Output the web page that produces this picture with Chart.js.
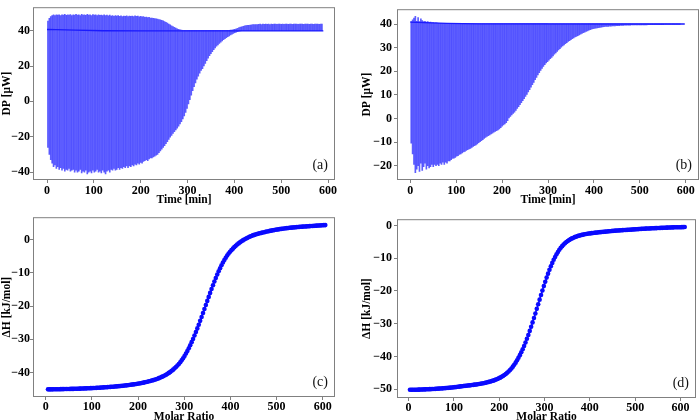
<!DOCTYPE html>
<html>
<head>
<meta charset="utf-8">
<script src="https://cdn.jsdelivr.net/npm/chart.js@4.4.1/dist/chart.umd.min.js"></script>
<style>
  html, body { margin: 0; padding: 0; background: #fff; overflow: hidden; }
  #page { position: relative; width: 700px; height: 420px; overflow: hidden; }
  canvas { position: absolute; }
</style>
</head>
<body>
<div id="page">
  <canvas id="panelA" width="350" height="210" style="left:0;top:0"></canvas>
  <canvas id="panelB" width="350" height="210" style="left:350px;top:0"></canvas>
  <canvas id="panelC" width="350" height="216" style="left:0;top:210px"></canvas>
  <canvas id="panelD" width="350" height="216" style="left:350px;top:210px"></canvas>
</div>
<script>
// injection schedule: one spike every 3 min
const injStart = 2;
const injStep = 3;

// (a) spike extremes, DP [uW], one value per injection
const dpTopA = [
  45.5, 47, 48, 48.5, 49, 48.5, 49, 48.8, 49, 48.6,
  49, 48.8, 49.2, 48.7, 49, 48.8, 49.1, 48.6, 49, 48.8,
  49.2, 48.9, 49, 48.6, 49.3, 48.8, 49, 48.7, 49.2, 48.9,
  49, 48.6, 49.1, 48.8, 49, 48.5, 49, 48.7, 48.9, 48.5,
  49, 48.6, 48.8, 48.4, 48.8, 48.3, 48.6, 48.2, 48.5, 48.3,
  48.5, 48.1, 48.4, 48, 48.3, 48.1, 48.4, 48, 48.3, 48.1,
  48.3, 48, 48.4, 48.1, 48.3, 47.9, 48.2, 47.8, 48, 47.6,
  47.7, 47.4, 47.5, 47.2, 47.2, 47, 46.9, 46.7, 46.6, 46.3,
  46.2, 45.9, 45.6, 45.2, 44.7, 44.3, 43.8, 43.3, 42.8, 42.3,
  41.9, 41.5, 41.1, 40.8, 40.5, 40.3, 40.2, 40.2, 40.2, 40.2,
  40.2, 40.2, 40.2, 40.2, 40.2, 40.2, 40.2, 40.2, 40.2, 40.2,
  40.2, 40.2, 40.2, 40.2, 40.2, 40.2, 40.2, 40.2, 40.2, 40.2,
  40.2, 40.2, 40.2, 40.2, 40.2, 40.2, 40.2, 40.2, 40.2, 40.2,
  40.3, 40.4, 40.6, 40.8, 41.1, 41.4, 41.7, 42, 42.2, 42.5,
  42.7, 42.9, 43.0, 43.1, 43.2, 43.3, 43.4, 43.4, 43.5, 43.5,
  43.6, 43.7, 43.5, 43.7, 43.6, 43.8, 43.6, 43.7, 43.5, 43.7,
  43.6, 43.8, 43.7, 43.6, 43.7, 43.8, 43.6, 43.7, 43.6, 43.8,
  43.7, 43.6, 43.8, 43.7, 43.6, 43.7, 43.8, 43.7, 43.6, 43.7,
  43.8, 43.7, 43.6, 43.7, 43.8, 43.7, 43.6, 43.8, 43.7, 43.6,
  43.7, 43.8, 43.7, 43.6, 43.7, 43.7
];
const dpBottomA = [
  -26, -30, -33, -35, -37, -36, -38, -37, -38.5, -37.5,
  -39, -38, -39.5, -38.5, -39, -38, -39.5, -39, -38.5, -40,
  -39, -40, -39.5, -38.5, -40.5, -39.5, -40, -39, -41, -40,
  -39.5, -40.5, -39, -40, -39.5, -38.5, -40, -39.5, -40.5, -39,
  -40, -41, -39.5, -39, -40, -38.5, -39, -38, -39, -38.5,
  -37.5, -38.5, -37.5, -38, -37, -37.5, -36.5, -37.5, -36.5, -37,
  -36, -36.5, -35.5, -36, -35, -35.5, -34.5, -35, -34, -33.5,
  -33, -33.5, -32.5, -32, -32, -31.5, -31, -30.5, -30, -29,
  -28, -27, -26, -25, -24, -22.8, -21.5, -20.3, -19.2, -18.2,
  -17.2, -16.2, -15.2, -14, -12.8, -11.5, -10, -8.2, -6.2, -4,
  -1.5, 1, 3.5, 6, 8.3, 10.5, 12.5, 14.3, 16, 17.5,
  18.5, 20, 21.5, 23, 24.5, 25.8, 27, 28.2, 29.3, 30.3,
  31.2, 32, 32.8, 33.5, 34.2, 34.9, 35.5, 36.1, 36.6, 37.1,
  37.6, 38.1, 38.5, 38.9, 39.2, 39.5, 39.7, 39.9, 40, 40,
  40, 40, 40, 40, 40, 40, 40, 40, 40, 40,
  40, 40, 40, 40, 40, 40, 40, 40, 40, 40,
  40, 40, 40, 40, 40, 40, 40, 40, 40, 40,
  40, 40, 40, 40, 40, 40, 40, 40, 40, 40,
  40, 40, 40, 40, 40, 40, 40, 40, 40, 40,
  40, 40, 40, 40, 40, 40
];
const baseTimeA = [0, 20, 60, 120, 200, 590];
const baseValA = [40.7, 40.6, 40.3, 40.0, 39.9, 39.9];

// (b) spike extremes
const dpTopB = [
  41, 41.8, 42.5, 43.3, 41.2, 42.8, 41, 42.2, 41.5, 41,
  41.2, 40.8, 41, 40.6, 40.8, 40.5, 40.6, 40.4, 40.5, 40.4,
  40.3, 40.3, 40.3, 40.3, 40.3, 40.3, 40.3, 40.3, 40.3, 40.3,
  40.3, 40.3, 40.3, 40.3, 40.3, 40.3, 40.3, 40.3, 40.3, 40.3,
  40.2, 40.2, 40.2, 40.2, 40.2, 40.2, 40.2, 40.2, 40.2, 40.2,
  40.2, 40.2, 40.2, 40.2, 40.2, 40.2, 40.2, 40.2, 40.2, 40.2,
  40.2, 40.2, 40.2, 40.2, 40.2, 40.2, 40.2, 40.2, 40.2, 40.2,
  40.2, 40.2, 40.2, 40.2, 40.2, 40.2, 40.2, 40.2, 40.2, 40.2,
  40.2, 40.2, 40.2, 40.2, 40.2, 40.2, 40.2, 40.2, 40.2, 40.2,
  40.2, 40.2, 40.2, 40.2, 40.2, 40.2, 40.2, 40.2, 40.2, 40.2,
  40.1, 40.1, 40.1, 40.1, 40.1, 40.1, 40.1, 40.1, 40.1, 40.1,
  40.1, 40.1, 40.1, 40.1, 40.1, 40.1, 40.1, 40.1, 40.1, 40.1,
  40.1, 40.1, 40.1, 40.1, 40.1, 40.1, 40.1, 40.1, 40.1, 40.1,
  40.1, 40.1, 40.1, 40.1, 40.1, 40.1, 40.1, 40.1, 40.1, 40.1,
  40.1, 40.1, 40.1, 40.1, 40.1, 40.1, 40.1, 40.1, 40.1, 40.1,
  40.1, 40.1, 40.1, 40.1, 40.1, 40.1, 40.1, 40.1, 40.1, 40.1,
  40.1, 40.1, 40.1, 40.1, 40.1, 40.1, 40.1, 40.1, 40.1, 40.1,
  40.1, 40.1, 40.1, 40.1, 40.1, 40.1, 40.1, 40.1, 40.1, 40.1,
  40.1, 40.1, 40.1, 40.1, 40.1, 40.1, 40.1, 40.1, 40.1, 40.1,
  40.1, 40.1, 40.1, 40.1, 40.1, 40.1
];
const dpBottomB = [
  -10.5, -15, -19.5, -23, -21.5, -20, -22.5, -19, -22, -20.5,
  -19, -21.5, -20, -21, -20.5, -19.5, -20.5, -19.5, -20, -19.5,
  -20, -19, -19.5, -18.5, -19.5, -18.5, -19, -18, -18, -17.5,
  -17, -16.8, -16.5, -16, -15.8, -15.3, -15, -14.6, -14.2, -14,
  -13.6, -13.2, -12.9, -12.7, -12.3, -11.9, -11.6, -11.2, -10.8, -10.3,
  -9.8, -9.4, -9, -8.5, -8, -7.6, -7.3, -7, -6.6, -6.2,
  -5.8, -5.5, -5.2, -4.9, -4.4, -3.9, -3.3, -2.8, -2.3, -1.8,
  -1, 0, 0.8, 1.5, 2.1, 2.7, 3.4, 4.2, 5, 5.8,
  6.7, 7.5, 8.4, 9.3, 10.2, 11.2, 12.2, 13.2, 14.3, 15.3,
  16.4, 17.4, 18.4, 19.4, 20.3, 21.2, 22, 22.8, 23.5, 24.1,
  24.7, 25.3, 25.9, 26.5, 27.2, 27.8, 28.4, 29, 29.6, 30.2,
  30.7, 31.2, 31.7, 32.1, 32.6, 33, 33.4, 33.8, 34.1, 34.5,
  34.8, 35.1, 35.4, 35.7, 36, 36.3, 36.6, 36.9, 37.1, 37.4,
  37.6, 37.8, 38, 38.1, 38.3, 38.4, 38.5, 38.6, 38.7, 38.8,
  38.9, 38.95, 39, 39.05, 39.1, 39.15, 39.2, 39.2, 39.25, 39.3,
  39.3, 39.35, 39.4, 39.4, 39.45, 39.5, 39.5, 39.5, 39.55, 39.55,
  39.6, 39.6, 39.6, 39.6, 39.6, 39.6, 39.6, 39.6, 39.6, 39.6,
  39.6, 39.6, 39.7, 39.7, 39.7, 39.7, 39.7, 39.7, 39.7, 39.7,
  39.7, 39.7, 39.7, 39.7, 39.8, 39.8, 39.8, 39.8, 39.8, 39.8,
  39.8, 39.8, 39.8, 39.8, 39.8, 39.8
];
const baseTimeB = [0, 30, 80, 150, 598];
const baseValB = [40.8, 40.6, 40.3, 40.1, 40.0];

// (c), (d) integrated heats, one point per injection
const ratioStartC = 5, ratioStepC = 3.08;
const dhC = [
  -45.0, -45.0, -45.0, -45.0, -44.99, -44.98, -44.97, -44.96, -44.95, -44.94,
  -44.93, -44.92, -44.91, -44.9, -44.89, -44.88, -44.87, -44.86, -44.85, -44.83,
  -44.82, -44.8, -44.79, -44.77, -44.76, -44.74, -44.72, -44.7, -44.68, -44.66,
  -44.64, -44.62, -44.6, -44.58, -44.55, -44.53, -44.5, -44.48, -44.45, -44.42,
  -44.39, -44.36, -44.33, -44.3, -44.27, -44.23, -44.2, -44.16, -44.12, -44.08,
  -44.04, -44.0, -43.95, -43.9, -43.85, -43.8, -43.75, -43.7, -43.64, -43.58,
  -43.52, -43.45, -43.38, -43.31, -43.24, -43.16, -43.08, -42.99, -42.9, -42.8,
  -42.7, -42.59, -42.48, -42.36, -42.24, -42.1, -41.96, -41.8, -41.64, -41.46,
  -41.27, -41.06, -40.84, -40.6, -40.34, -40.06, -39.76, -39.43, -39.08, -38.7,
  -38.3, -37.85, -37.37, -36.85, -36.28, -35.66, -34.98, -34.25, -33.47, -32.64,
  -31.76, -30.83, -29.86, -28.85, -27.79, -26.7, -25.58, -24.43, -23.26, -22.07,
  -20.86, -19.65, -18.44, -17.23, -16.04, -14.87, -13.73, -12.62, -11.55, -10.52,
  -9.54, -8.61, -7.74, -6.92, -6.16, -5.46, -4.81, -4.22, -3.68, -3.19,
  -2.74, -2.3, -1.9, -1.52, -1.17, -0.85, -0.55, -0.27, 0.0, 0.24,
  0.47, 0.68, 0.88, 1.06, 1.23, 1.38, 1.52, 1.65, 1.77, 1.88,
  1.99, 2.1, 2.2, 2.3, 2.4, 2.49, 2.58, 2.67, 2.75, 2.83,
  2.91, 2.98, 3.05, 3.12, 3.18, 3.24, 3.3, 3.36, 3.41, 3.46,
  3.51, 3.56, 3.6, 3.64, 3.68, 3.72, 3.76, 3.8, 3.83, 3.86,
  3.89, 3.92, 3.95, 3.98, 4.01, 4.04, 4.07, 4.1, 4.13, 4.16,
  4.19, 4.22, 4.25, 4.28, 4.31, 4.33
];
const ratioStartD = 3, ratioStepD = 3.11;
const dhD = [
  -50.2, -50.2, -50.19, -50.18, -50.17, -50.16, -50.15, -50.14, -50.12, -50.1,
  -50.08, -50.06, -50.04, -50.02, -50.0, -49.98, -49.96, -49.93, -49.9, -49.87,
  -49.84, -49.81, -49.78, -49.75, -49.72, -49.68, -49.64, -49.6, -49.56, -49.52,
  -49.48, -49.43, -49.38, -49.33, -49.28, -49.22, -49.16, -49.1, -49.04, -48.99,
  -48.95, -48.9, -48.85, -48.8, -48.74, -48.68, -48.62, -48.56, -48.49, -48.42,
  -48.35, -48.27, -48.19, -48.1, -48.0, -47.9, -47.79, -47.67, -47.54, -47.4,
  -47.25, -47.08, -46.9, -46.7, -46.48, -46.24, -45.97, -45.68, -45.36, -45.0,
  -44.6, -44.16, -43.67, -43.13, -42.54, -41.9, -41.2, -40.44, -39.62, -38.74,
  -37.8, -36.8, -35.74, -34.62, -33.44, -32.21, -30.93, -29.61, -28.26, -26.88,
  -25.48, -24.07, -22.66, -21.26, -19.88, -18.53, -17.21, -15.94, -14.72, -13.56,
  -12.47, -11.45, -10.5, -9.63, -8.83, -8.1, -7.44, -6.85, -6.33, -5.86,
  -5.44, -5.07, -4.74, -4.45, -4.19, -3.96, -3.75, -3.57, -3.41, -3.26,
  -3.13, -3.01, -2.9, -2.8, -2.71, -2.63, -2.55, -2.48, -2.42, -2.36,
  -2.3, -2.25, -2.2, -2.15, -2.1, -2.05, -2.0, -1.96, -1.92, -1.88,
  -1.84, -1.8, -1.76, -1.72, -1.68, -1.64, -1.6, -1.57, -1.54, -1.51,
  -1.48, -1.45, -1.42, -1.39, -1.36, -1.33, -1.3, -1.27, -1.24, -1.21,
  -1.18, -1.15, -1.12, -1.09, -1.06, -1.03, -1.0, -0.98, -0.96, -0.94,
  -0.92, -0.9, -0.88, -0.86, -0.84, -0.82, -0.8, -0.78, -0.76, -0.74,
  -0.72, -0.7, -0.68, -0.66, -0.64, -0.62, -0.6, -0.59, -0.58, -0.57,
  -0.56, -0.55, -0.54, -0.53, -0.52, -0.5
];

// tick labels
const timeTicks = [0, 100, 200, 300, 400, 500, 600];
const ratioTicks = [0, 100, 200, 300, 400, 500, 600];
const dpTicksA = [-40, -20, 0, 20, 40];
const dpTicksB = [-20, -10, 0, 10, 20, 30, 40];
const dhTicksC = [-40, -30, -20, -10, 0];
const dhTicksD = [-50, -40, -30, -20, -10, 0];

const serif = '"Liberation Serif", "Times New Roman", serif';
const frameColor = '#808080';
const spikeColor = 'rgba(30, 30, 255, 0.72)';
const lineBlue = '#1a1aff';

function fmt(v) {
    return v < 0 ? '\u2212' + Math.abs(v) : String(v);
}

// frame box + panel letter
const framePlugin = {
    id: 'frame',
    afterDatasetsDraw(chart, args, opts) {
        const { ctx, chartArea: a } = chart;
        ctx.save();
        ctx.strokeStyle = frameColor;
        ctx.lineWidth = 1;
        ctx.strokeRect(a.left + 0.5, a.top + 0.5, a.right - a.left - 1, a.bottom - a.top - 1);
        ctx.font = '14px ' + serif;
        ctx.fillStyle = '#111';
        ctx.textAlign = 'right';
        ctx.textBaseline = 'alphabetic';
        ctx.fillText(opts.text, a.right - 7, a.bottom - 11);
        ctx.restore();
    }
};

function buildScales(p) {
    const tickFont = { family: serif, size: 12, weight: 'bold' };
    const titleFont = { family: serif, size: 11.5, weight: 'bold' };
    return {
        x: {
            type: 'linear', min: p.xMin, max: p.xMax, offset: false,
            afterBuildTicks: s => { s.ticks = p.xTicks.map(v => ({ value: v })); },
            afterFit: s => { s.height = p.xAxisH; },
            grid: { offset: false, drawOnChartArea: false, tickLength: 3, color: frameColor },
            border: { display: false },
            ticks: { font: tickFont, color: '#000', padding: p.xPad, maxRotation: 0, callback: fmt },
            title: { display: true, text: p.xTitle, font: titleFont, color: '#000', padding: { top: 0, bottom: p.xTitleBottom } }
        },
        y: {
            type: 'linear', min: p.yMin, max: p.yMax,
            afterBuildTicks: s => { s.ticks = p.yTicks.map(v => ({ value: v })); },
            afterFit: s => { s.width = p.yAxisW; },
            grid: { drawOnChartArea: false, tickLength: 3, color: frameColor },
            border: { display: false },
            ticks: { font: tickFont, color: '#000', padding: p.yPad, callback: fmt },
            title: { display: true, text: p.yTitle, font: titleFont, color: '#000', padding: { top: p.yTitleTop, bottom: 0 } }
        }
    };
}

function commonOptions(p) {
    return {
        responsive: false,
        animation: false,
        events: [],
        layout: { padding: { left: 0, top: p.padTop, right: p.padRight, bottom: 0 } },
        plugins: { legend: { display: false }, tooltip: { enabled: false }, frame: { text: p.label } },
        scales: buildScales(p)
    };
}

function thermogram(id, tops, bottoms, baseT, baseV, p) {
    const spikes = tops.map((t, i) => ({ x: injStart + i * injStep, y: [bottoms[i], t] }));
    const baseline = baseT.map((t, i) => ({ x: t, y: baseV[i] }));
    new Chart(document.getElementById(id), {
        type: 'bar',
        data: {
            datasets: [
                { type: 'line', data: baseline, borderColor: lineBlue, borderWidth: 1.4, pointRadius: 0, order: 0 },
                { data: spikes, backgroundColor: spikeColor, borderWidth: 0, barThickness: 1, grouped: false, order: 1 }
            ]
        },
        options: commonOptions(p),
        plugins: [framePlugin]
    });
}

function isotherm(id, start, step, values, p) {
    const pts = values.map((v, i) => ({ x: start + i * step, y: v }));
    new Chart(document.getElementById(id), {
        type: 'scatter',
        data: {
            datasets: [{
                data: pts, showLine: true, borderColor: '#0a0aff', borderWidth: 1.5,
                pointRadius: 2.3, pointBorderWidth: 0, pointBackgroundColor: '#0a0aff'
            }]
        },
        options: commonOptions(p),
        plugins: [framePlugin]
    });
}

thermogram('panelA', dpTopA, dpBottomA, baseTimeA, baseValA, {
    label: '(a)', padTop: 1, padRight: 15, xAxisH: 30, yAxisW: 33,
    xMin: -29.9, xMax: 614.9, yMin: -44.5, yMax: 53.3,
    xTicks: timeTicks, yTicks: dpTicksA, xPad: 1, yPad: 0,
    xTitle: 'Time [min]', yTitle: 'DP [\u03bcW]', xTitleBottom: 3, yTitleTop: 0
});

thermogram('panelB', dpTopB, dpBottomB, baseTimeB, baseValB, {
    label: '(b)', padTop: 1, padRight: 1, xAxisH: 30, yAxisW: 47,
    xMin: -29, xMax: 629, yMin: -26.1, yMax: 46.3,
    xTicks: timeTicks, yTicks: dpTicksB, xPad: 1, yPad: 2,
    xTitle: 'Time [min]', yTitle: 'DP [\u03bcW]', xTitleBottom: 3, yTitleTop: 10
});

isotherm('panelC', ratioStartC, ratioStepC, dhC, {
    label: '(c)', padTop: 7, padRight: 15, xAxisH: 29, yAxisW: 33,
    xMin: -27.5, xMax: 626.6, yMin: -47.3, yMax: 6.7,
    xTicks: ratioTicks, yTicks: dhTicksC, xPad: 0, yPad: 0,
    xTitle: 'Molar Ratio', yTitle: '\u0394H [kJ/mol]', xTitleBottom: 2, yTitleTop: 0
});

isotherm('panelD', ratioStartD, ratioStepD, dhD, {
    label: '(d)', padTop: 7, padRight: 1, xAxisH: 28, yAxisW: 47,
    xMin: -25.6, xMax: 634.3, yMin: -52.7, yMax: 1.9,
    xTicks: ratioTicks, yTicks: dhTicksD, xPad: 0, yPad: 2,
    xTitle: 'Molar Ratio', yTitle: '\u0394H [kJ/mol]', xTitleBottom: 2, yTitleTop: 10
});
</script>
</body>
</html>
